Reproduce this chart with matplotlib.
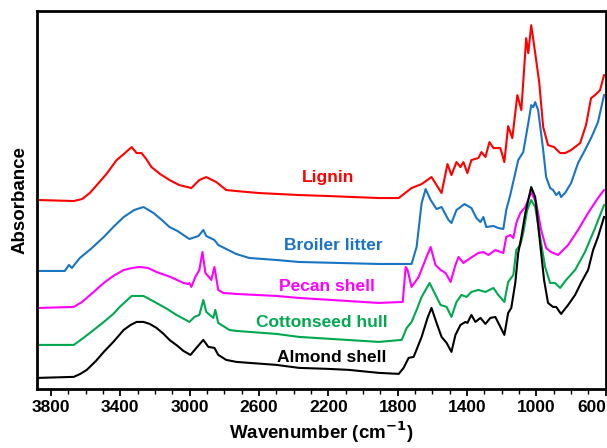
import numpy as np
import matplotlib
matplotlib.use('Agg')
import matplotlib.pyplot as plt
from matplotlib.ticker import MultipleLocator

plt.rcParams['font.family'] = ['Liberation Sans', 'DejaVu Sans']
plt.rcParams['font.weight'] = 'bold'
plt.rcParams['mathtext.default'] = 'bf'

# spectra (wavenumber in cm-1, absorbance in a.u., already stacked)
lignin_wn = [3869, 3668, 3620, 3576, 3530, 3480, 3421, 3380, 3334, 3306, 3277, 3250, 3220, 3170,
             3116, 3060, 2990, 2944, 2904, 2846, 2789, 2731, 2600, 2369, 2200, 1909, 1794, 1720,
             1662, 1605, 1547, 1513, 1490, 1461, 1438, 1421, 1398, 1375, 1335, 1317, 1294, 1271,
             1248, 1208, 1185, 1163, 1139, 1110, 1087, 1059, 1047, 1030, 1007, 984, 961, 933, 898,
             863, 835, 800, 748, 714, 685, 662, 633, 610]
lignin_ab = [1.89, 1.88, 1.90, 1.96, 2.05, 2.15, 2.29, 2.35, 2.42, 2.36, 2.36, 2.30, 2.22, 2.15,
             2.09, 2.04, 2.01, 2.09, 2.12, 2.07, 1.99, 1.98, 1.96, 1.94, 1.93, 1.91, 1.91, 2.01,
             2.05, 2.12, 1.96, 2.25, 2.14, 2.27, 2.22, 2.27, 2.16, 2.29, 2.31, 2.37, 2.32, 2.47,
             2.41, 2.41, 2.27, 2.63, 2.51, 2.94, 2.79, 3.51, 3.36, 3.64, 3.36, 3.07, 2.62, 2.44, 2.42,
             2.36, 2.36, 2.39, 2.46, 2.64, 2.91, 2.94, 2.99, 3.14]

broiler_wn = [3869, 3720, 3696, 3679, 3633, 3570, 3495, 3440, 3380, 3320, 3266, 3208, 3160, 3116,
              3070, 3036, 3001, 2949, 2921, 2904, 2857, 2835, 2731, 2656, 2500, 2369, 1909, 1720,
              1691, 1662, 1639, 1610, 1576, 1547, 1507, 1490, 1461, 1415, 1375, 1346, 1323, 1306,
              1289, 1248, 1220, 1191, 1174, 1151, 1105, 1076, 1047, 1030, 1018, 1007, 990, 961, 944,
              921, 904, 886, 869, 858, 835, 800, 760, 720, 685, 645, 610]
broiler_ab = [1.18, 1.18, 1.24, 1.21, 1.31, 1.40, 1.52, 1.62, 1.72, 1.79, 1.82, 1.76, 1.69, 1.62,
              1.58, 1.54, 1.50, 1.53, 1.59, 1.53, 1.49, 1.44, 1.35, 1.31, 1.29, 1.27, 1.25, 1.25,
              1.42, 1.86, 2.00, 1.89, 1.80, 1.82, 1.69, 1.66, 1.79, 1.85, 1.81, 1.71, 1.67, 1.72,
              1.62, 1.63, 1.61, 1.60, 1.79, 1.94, 2.29, 2.37, 2.66, 2.84, 2.82, 2.87, 2.79, 2.39, 2.12,
              2.01, 1.99, 1.94, 1.97, 1.92, 1.96, 2.06, 2.26, 2.39, 2.51, 2.67, 2.94]

pecan_wn = [3869, 3668, 3620, 3560, 3495, 3440, 3380, 3330, 3288, 3240, 3191, 3110, 3036, 3007,
            3001, 2990, 2967, 2944, 2926, 2909, 2875, 2857, 2835, 2806, 2731, 2500, 2369, 1909,
            1771, 1754, 1743, 1720, 1679, 1634, 1610, 1582, 1553, 1524, 1495, 1467, 1449, 1421,
            1380, 1335, 1306, 1277, 1237, 1191, 1174, 1151, 1133, 1116, 1093, 1064, 1030, 1001,
            973, 944, 916, 875, 846, 817, 760, 702, 645, 610]
pecan_ab = [0.81, 0.82, 0.87, 0.96, 1.06, 1.13, 1.19, 1.21, 1.22, 1.21, 1.17, 1.12, 1.06, 1.05,
            1.06, 1.02, 1.12, 1.19, 1.37, 1.16, 1.09, 1.22, 0.99, 0.96, 0.95, 0.93, 0.91, 0.86,
            0.87, 1.22, 1.19, 1.02, 1.12, 1.32, 1.42, 1.24, 1.19, 1.16, 1.07, 1.24, 1.32, 1.26,
            1.31, 1.36, 1.37, 1.34, 1.39, 1.36, 1.52, 1.54, 1.51, 1.66, 1.76, 1.82, 1.97, 1.86,
            1.59, 1.41, 1.37, 1.34, 1.39, 1.44, 1.59, 1.76, 1.91, 1.99]

cotton_wn = [3869, 3668, 3620, 3560, 3495, 3440, 3403, 3334, 3266, 3191, 3130, 3076, 3001, 2972,
             2944, 2921, 2904, 2863, 2852, 2835, 2771, 2731, 2500, 2369, 1909, 1777, 1748, 1720,
             1691, 1662, 1616, 1582, 1553, 1518, 1490, 1461, 1432, 1403, 1375, 1335, 1294, 1248,
             1220, 1185, 1163, 1133, 1116, 1093, 1076, 1053, 1030, 1007, 979, 950, 921, 893, 863,
             829, 777, 720, 662, 628, 610]
cotton_ab = [0.44, 0.44, 0.50, 0.58, 0.67, 0.75, 0.82, 0.93, 0.93, 0.86, 0.80, 0.74, 0.67, 0.72,
             0.74, 0.89, 0.77, 0.71, 0.79, 0.66, 0.59, 0.58, 0.55, 0.52, 0.47, 0.49, 0.61, 0.67,
             0.79, 0.92, 1.06, 0.94, 0.84, 0.82, 0.72, 0.87, 0.94, 0.92, 0.97, 0.99, 0.97, 1.01,
             0.94, 0.87, 1.07, 1.14, 1.39, 1.44, 1.56, 1.79, 1.89, 1.82, 1.52, 1.22, 1.06, 1.06, 1.01,
             1.09, 1.19, 1.37, 1.61, 1.76, 1.84]

almond_wn = [3869, 3668, 3630, 3593, 3540, 3495, 3440, 3380, 3340, 3306, 3266, 3230, 3191, 3150,
             3116, 3070, 3036, 2995, 2961, 2921, 2892, 2857, 2835, 2789, 2731, 2656, 2500, 2369,
             2200, 2082, 1909, 1794, 1766, 1737, 1708, 1662, 1628, 1605, 1576, 1547, 1518, 1490,
             1467, 1438, 1409, 1398, 1375, 1352, 1323, 1294, 1266, 1237, 1208, 1185, 1163, 1145,
             1122, 1105, 1087, 1064, 1030, 1007, 979, 956, 933, 904, 886, 858, 817, 777, 743, 702,
             673, 645, 610]
almond_ab = [0.11, 0.12, 0.15, 0.19, 0.28, 0.37, 0.47, 0.59, 0.64, 0.67, 0.67, 0.65, 0.61, 0.55,
             0.49, 0.43, 0.38, 0.34, 0.41, 0.49, 0.42, 0.41, 0.34, 0.29, 0.27, 0.26, 0.24, 0.21,
             0.20, 0.19, 0.16, 0.15, 0.21, 0.31, 0.32, 0.52, 0.71, 0.81, 0.66, 0.52, 0.46, 0.37,
             0.54, 0.64, 0.67, 0.66, 0.74, 0.67, 0.71, 0.65, 0.71, 0.72, 0.62, 0.54, 0.76, 0.81,
             1.06, 1.36, 1.52, 1.76, 2.02, 1.92, 1.46, 1.09, 0.86, 0.82, 0.82, 0.75, 0.84, 0.94,
             1.06, 1.19, 1.39, 1.52, 1.72]

names = ['Lignin', 'Broiler litter', 'Pecan shell', 'Cottonseed hull', 'Almond shell']
colors = ['#FF0000', '#1A74C4', '#FF00FF', '#00A94F', '#000000']
# where each name sits (wavenumber, absorbance)
label_pos = [(2200, 2.12), (2170, 1.43), (2210, 1.02), (2240, 0.66), (2180, 0.31)]

wns = [lignin_wn, broiler_wn, pecan_wn, cotton_wn, almond_wn]
abs_ = [lignin_ab, broiler_ab, pecan_ab, cotton_ab, almond_ab]

fig = plt.figure(figsize=(6.07, 4.48), dpi=100)
ax = fig.add_axes([0.061, 0.132, 0.937, 0.843])

for wn, ab, name, c, (lx, ly) in zip(wns, abs_, names, colors, label_pos):
    ax.plot(wn, ab, color=c, linewidth=1.5)
    ax.text(lx, ly, name, color=c, fontsize=12.5, fontweight='bold', ha='center', va='center')

ax.set_xlim(3880, 600)
ax.set_ylim(0, 3.78)
ax.xaxis.set_minor_locator(MultipleLocator(100))
ax.set_yticks([])
ax.tick_params(axis='x', which='major', length=5, width=1.3, labelsize=12.5, pad=3)
ax.tick_params(axis='x', which='minor', length=3.5, width=1.0)
for s in ax.spines.values():
    s.set_linewidth(2.0)

ticks = np.arange(3800, 599, -400)
ax.set_xticks(ticks)
ax.set_xticklabels([str(t) for t in ticks], fontweight='bold')
ax.get_xticklabels()[-1].set_ha('right')

ax.set_xlabel(r'Wavenumber (cm$^{-1}$)', fontsize=13.5, fontweight='bold', labelpad=3)
ax.set_ylabel('Absorbance', fontsize=13.5, fontweight='bold', labelpad=6)

fig.savefig('out.png', dpi=100)
